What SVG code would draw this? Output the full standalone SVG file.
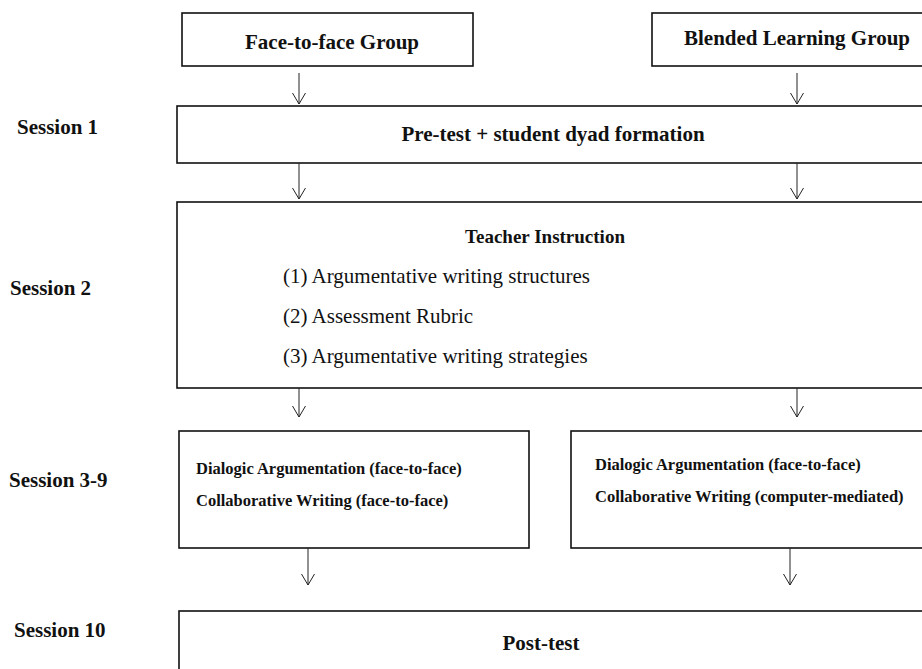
<svg xmlns="http://www.w3.org/2000/svg" width="922" height="669" viewBox="0 0 922 669">
<style>
.box{fill:#fff;stroke:#111;stroke-width:1.6}
.b{font-family:"Liberation Serif","Times New Roman",serif;font-weight:bold;fill:#111}
.r{font-family:"Liberation Serif","Times New Roman",serif;fill:#111}
.h{font-size:21px}
.s{font-size:16.5px}
.c{text-anchor:middle}
.conn line{stroke:#222;stroke-width:1}
.conn path{fill:none;stroke:#222;stroke-width:1}
</style>
<rect width="922" height="669" fill="#fff"/>
<g id="labels">
<text class="b h" x="17" y="134">Session 1</text>
<text class="b h" x="10" y="295">Session 2</text>
<text class="b h" x="9" y="487">Session 3-9</text>
<text class="b h" x="14" y="637">Session 10</text>
</g>
<g id="face-group">
<rect class="box" x="182" y="13" width="291" height="53"/>
<text class="b h c" x="332" y="49">Face-to-face Group</text>
</g>
<g id="blended-group">
<rect class="box" x="652" y="13" width="280" height="53"/>
<text class="b h c" x="797" y="45">Blended Learning Group</text>
</g>
<g id="pretest">
<rect class="box" x="177" y="106" width="755" height="57"/>
<text class="b h c" x="553" y="141">Pre-test + student dyad formation</text>
</g>
<g id="instruction">
<rect class="box" x="177" y="202" width="755" height="186"/>
<text class="b c" style="font-size:19px" x="545" y="243">Teacher Instruction</text>
<text class="r h" x="283" y="283">(1) Argumentative writing structures</text>
<text class="r h" x="283" y="323">(2) Assessment Rubric</text>
<text class="r h" x="283" y="363">(3) Argumentative writing strategies</text>
</g>
<g id="face-practice">
<rect class="box" x="179" y="431" width="350" height="117"/>
<text class="b s" x="196" y="474">Dialogic Argumentation (face-to-face)</text>
<text class="b s" x="196" y="506">Collaborative Writing (face-to-face)</text>
</g>
<g id="blended-practice">
<rect class="box" x="571" y="431" width="361" height="117"/>
<text class="b s" x="595" y="470">Dialogic Argumentation (face-to-face)</text>
<text class="b s" x="595" y="502">Collaborative Writing (computer-mediated)</text>
</g>
<g id="posttest">
<rect class="box" x="179" y="611" width="753" height="80"/>
<text class="b h c" x="541" y="650">Post-test</text>
</g>
<g id="connectors" class="conn">
<line x1="299" y1="73" x2="299" y2="104"/><path d="M292.5,93 L299,104 L305.5,93"/>
<line x1="797" y1="73" x2="797" y2="104"/><path d="M790.5,93 L797,104 L803.5,93"/>
<line x1="299" y1="163" x2="299" y2="199"/><path d="M292.5,188 L299,199 L305.5,188"/>
<line x1="797" y1="163" x2="797" y2="199"/><path d="M790.5,188 L797,199 L803.5,188"/>
<line x1="299" y1="388" x2="299" y2="417"/><path d="M292.5,406 L299,417 L305.5,406"/>
<line x1="797" y1="388" x2="797" y2="417"/><path d="M790.5,406 L797,417 L803.5,406"/>
<line x1="308" y1="548" x2="308" y2="585"/><path d="M301.5,574 L308,585 L314.5,574"/>
<line x1="790" y1="548" x2="790" y2="585"/><path d="M783.5,574 L790,585 L796.5,574"/>
</g>
</svg>
